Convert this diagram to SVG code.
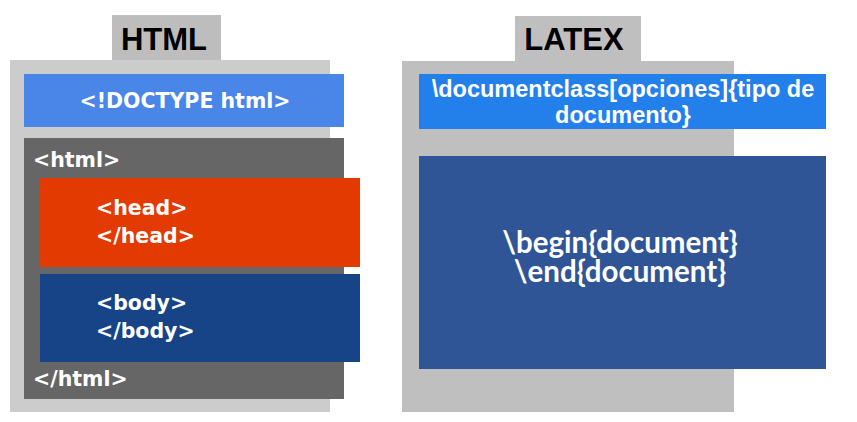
<svg xmlns="http://www.w3.org/2000/svg" width="857" height="422" viewBox="0 0 857 422">
<style>
.tag{font-family:"DejaVu Sans","Open Sans",sans-serif;font-weight:bold;font-size:20.5px;fill:#ffffff}
.title{font-family:"Liberation Sans",Arial,sans-serif;font-weight:bold;font-size:31px;fill:#000000}
.cls{font-family:"Liberation Sans",Arial,sans-serif;font-weight:bold;font-size:23.5px;fill:#ffffff}
.doc{font-family:Lato,"Open Sans",sans-serif;font-weight:bold;font-size:29.5px;fill:#ffffff}
</style>
<rect width="857" height="422" fill="#ffffff"/>
<g id="html-panel">
  <rect x="112" y="15" width="109" height="46" fill="#bdbdbd"/>
  <rect x="10" y="60" width="320" height="352" fill="#cccccc"/>
  <text class="title" x="164" y="50" text-anchor="middle">HTML</text>
</g>
<g id="doctype">
  <rect x="24" y="74" width="320" height="53" fill="#4a86e8"/>
  <text class="tag" x="185" y="108" text-anchor="middle">&lt;!DOCTYPE html&gt;</text>
</g>
<g id="html">
  <rect x="24" y="138" width="320" height="261" fill="#666666"/>
  <text class="tag" x="33" y="167">&lt;html&gt;</text>
  <text class="tag" x="33" y="386">&lt;/html&gt;</text>
</g>
<g id="head">
  <rect x="40" y="178" width="320" height="89" fill="#e23a00"/>
  <text class="tag" x="96" y="215">&lt;head&gt;</text>
  <text class="tag" x="96" y="243">&lt;/head&gt;</text>
</g>
<g id="body">
  <rect x="40" y="274" width="320" height="88" fill="#174487"/>
  <text class="tag" x="96" y="310">&lt;body&gt;</text>
  <text class="tag" x="96" y="338">&lt;/body&gt;</text>
</g>
<g id="latex-panel">
  <rect x="515" y="16" width="126" height="46" fill="#bfbfbf"/>
  <rect x="402" y="61" width="332" height="351" fill="#bfbfbf"/>
  <text class="title" x="574" y="50" text-anchor="middle">LATEX</text>
</g>
<g id="documentclass">
  <rect x="419" y="74" width="407" height="55" fill="#2380eb"/>
  <text class="cls" x="623" y="97" text-anchor="middle">\documentclass[opciones]{tipo de</text>
  <text class="cls" x="623" y="123" text-anchor="middle">documento}</text>
</g>
<g id="document">
  <rect x="419" y="156" width="407" height="213" fill="#2f5597"/>
  <text class="doc" x="620" y="253" text-anchor="middle">\begin{document}</text>
  <text class="doc" x="620" y="282" text-anchor="middle">\end{document}</text>
</g>
<g id="connectors"/>
</svg>
